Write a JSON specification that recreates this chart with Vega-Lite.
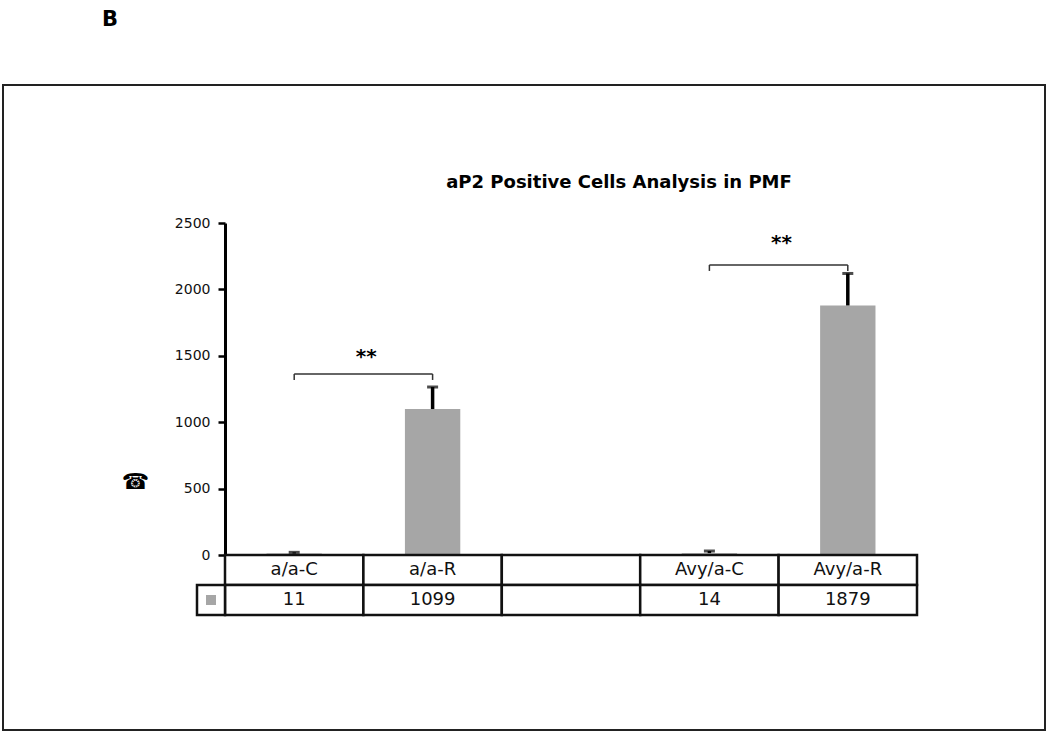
{
  "$schema": "https://vega.github.io/schema/vega-lite/v6.json",
  "width": 1042,
  "height": 645,
  "autosize": {"type": "none"},
  "padding": {"left": 3, "top": 85, "right": 5, "bottom": 5},
  "background": "white",
  "title": {"text": "B", "anchor": "start", "frame": "group", "offset": 38, "dx": 99, "baseline": "alphabetic", "font": "DejaVu Sans", "fontSize": 21, "fontWeight": "bold", "color": "#000"},
  "config": {
    "view": {"stroke": "#222", "strokeWidth": 2},
    "font": "DejaVu Sans"
  },
  "datasets": {
    "bars": [
      {"cat": "a/a-C", "value": 11, "upper": 20},
      {"cat": "a/a-R", "value": 1099, "upper": 1265},
      {"cat": "Avy/a-C", "value": 14, "upper": 30},
      {"cat": "Avy/a-R", "value": 1879, "upper": 2120}
    ],
    "brackets": [
      {"from": "a/a-C", "to": "a/a-R", "y": 1363, "yEnd": 1318, "star": 1446, "label": "**"},
      {"from": "Avy/a-C", "to": "Avy/a-R", "y": 2184, "yEnd": 2139, "star": 2304, "label": "**"}
    ],
    "titles": [{"text": "aP2 Positive Cells Analysis in PMF", "at": " ", "y": 2763}],
    "table": [
      {"cat": "a/a-C", "row": "cat", "label": "a/a-C"},
      {"cat": "a/a-R", "row": "cat", "label": "a/a-R"},
      {"cat": " ", "row": "cat", "label": ""},
      {"cat": "Avy/a-C", "row": "cat", "label": "Avy/a-C"},
      {"cat": "Avy/a-R", "row": "cat", "label": "Avy/a-R"},
      {"cat": "a/a-C", "row": "val", "label": "11"},
      {"cat": "a/a-R", "row": "val", "label": "1099"},
      {"cat": " ", "row": "val", "label": ""},
      {"cat": "Avy/a-C", "row": "val", "label": "14"},
      {"cat": "Avy/a-R", "row": "val", "label": "1879"}
    ],
    "legend": [{"col": "legend", "row": "val"}]
  },
  "layer": [
    {
      "layer": [
        {
          "data": {"name": "bars"},
          "mark": {"type": "bar", "color": "#a6a6a6"},
          "encoding": {
            "x": {"field": "cat", "type": "nominal"},
            "y": {"field": "value", "type": "quantitative"}
          }
        },
        {
          "data": {"name": "bars"},
          "mark": {"type": "rule", "color": "#000", "strokeWidth": 3.5},
          "encoding": {
            "x": {"field": "cat", "type": "nominal"},
            "y": {"field": "value", "type": "quantitative"},
            "y2": {"field": "upper"}
          }
        },
        {
          "data": {"name": "bars"},
          "mark": {"type": "tick", "color": "#000", "size": 11, "thickness": 3},
          "encoding": {
            "x": {"field": "cat", "type": "nominal"},
            "y": {"field": "upper", "type": "quantitative"}
          }
        },
        {
          "data": {"name": "brackets"},
          "mark": {"type": "rule", "color": "#333", "strokeWidth": 1.5},
          "encoding": {
            "x": {"field": "from", "type": "nominal"},
            "x2": {"field": "to"},
            "y": {"field": "y", "type": "quantitative"}
          }
        },
        {
          "data": {"name": "brackets"},
          "mark": {"type": "rule", "color": "#333", "strokeWidth": 1.5},
          "encoding": {
            "x": {"field": "from", "type": "nominal"},
            "y": {"field": "y", "type": "quantitative"},
            "y2": {"field": "yEnd"}
          }
        },
        {
          "data": {"name": "brackets"},
          "mark": {"type": "rule", "color": "#333", "strokeWidth": 1.5},
          "encoding": {
            "x": {"field": "to", "type": "nominal"},
            "y": {"field": "y", "type": "quantitative"},
            "y2": {"field": "yEnd"}
          }
        },
        {
          "data": {"name": "brackets"},
          "mark": {"type": "text", "font": "DejaVu Sans", "fontSize": 20, "fontWeight": "bold", "color": "#000", "align": "center", "baseline": "alphabetic", "xOffset": 72},
          "encoding": {
            "x": {"field": "from", "type": "nominal"},
            "y": {"field": "star", "type": "quantitative"},
            "text": {"field": "label"}
          }
        },
        {
          "data": {"name": "titles"},
          "mark": {"type": "text", "font": "DejaVu Sans", "fontSize": 18, "fontWeight": "bold", "color": "#000", "align": "center", "baseline": "alphabetic", "xOffset": 48},
          "encoding": {
            "x": {"field": "at", "type": "nominal"},
            "y": {"field": "y", "type": "quantitative"},
            "text": {"field": "text"}
          }
        }
      ],
      "encoding": {
        "x": {
          "scale": {"domain": ["a/a-C", "a/a-R", " ", "Avy/a-C", "Avy/a-R"], "range": [222, 914], "paddingInner": 0.6, "paddingOuter": 0.3},
          "axis": null
        },
        "y": {
          "scale": {"domain": [0, 2500], "range": [470, 138], "nice": false, "zero": true},
          "axis": {
            "values": [0, 500, 1000, 1500, 2000, 2500],
            "format": "d",
            "offset": -222,
            "grid": false,
            "domainColor": "#000",
            "domainWidth": 3,
            "tickColor": "#000",
            "tickWidth": 2.5,
            "tickSize": 7,
            "labelFont": "DejaVu Sans",
            "labelFontSize": 14,
            "labelColor": "#111",
            "labelPadding": 8,
            "title": "☎",
            "titleAngle": 0,
            "titleX": -90,
            "titleY": 396,
            "titleAlign": "center",
            "titleBaseline": "middle",
            "titleFont": "DejaVu Sans",
            "titleFontSize": 22,
            "titleColor": "#000",
            "titleFontWeight": "normal"
          }
        }
      }
    },
    {
      "data": {"name": "table"},
      "layer": [
        {
          "mark": {"type": "rect", "fill": "white", "stroke": "#111", "strokeWidth": 2.5}
        },
        {
          "mark": {"type": "text", "font": "DejaVu Sans", "fontSize": 18, "color": "#111", "align": "center", "baseline": "middle"},
          "encoding": {"text": {"field": "label"}}
        }
      ],
      "encoding": {
        "x": {"field": "cat", "type": "nominal", "scale": {"domain": ["a/a-C", "a/a-R", " ", "Avy/a-C", "Avy/a-R"], "range": [222, 914], "paddingInner": 0, "paddingOuter": 0}, "axis": null},
        "y": {"field": "row", "type": "nominal", "scale": {"domain": ["cat", "val"], "range": [470, 530], "paddingInner": 0, "paddingOuter": 0}, "axis": null}
      }
    },
    {
      "data": {"name": "legend"},
      "layer": [
        {
          "mark": {"type": "rect", "fill": "white", "stroke": "#111", "strokeWidth": 2.5}
        },
        {
          "mark": {"type": "point", "shape": "square", "filled": true, "size": 100, "color": "#a6a6a6", "opacity": 1}
        }
      ],
      "encoding": {
        "x": {"field": "col", "type": "nominal", "scale": {"domain": ["legend"], "range": [194, 222], "paddingInner": 0, "paddingOuter": 0}, "axis": null},
        "y": {"field": "row", "type": "nominal", "scale": {"domain": ["cat", "val"], "range": [470, 530], "paddingInner": 0, "paddingOuter": 0}, "axis": null}
      }
    }
  ],
  "resolve": {"scale": {"x": "independent", "y": "independent"}}
}
